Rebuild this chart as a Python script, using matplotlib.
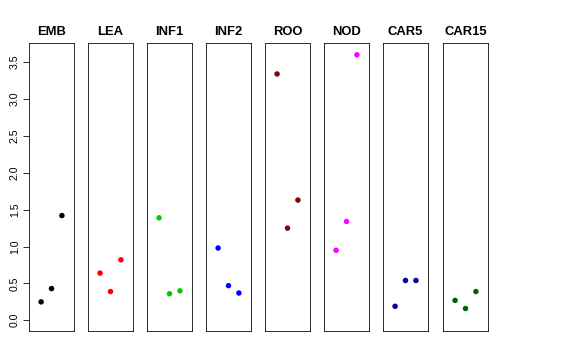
import numpy as np
from matplotlib import pyplot as plt

plt.rcParams['font.family'] = ['Liberation Sans', 'DejaVu Sans']

# groups and their three values (x = 1, 2, 3)
groups = ['EMB', 'LEA', 'INF1', 'INF2', 'ROO', 'NOD', 'CAR5', 'CAR15']
values = [
  [0.25, 0.43, 1.42],
  [0.64, 0.39, 0.82],
  [1.39, 0.36, 0.40],
  [0.98, 0.47, 0.37],
  [3.34, 1.25, 1.63],
  [0.95, 1.34, 3.60],
  [0.19, 0.54, 0.54],
  [0.27, 0.16, 0.39],
]
colors = ['black', 'red', '#00CD00', 'blue', '#8B0000', '#FF00FF', '#00008B', '#006400']
yticks = [0.0, 0.5, 1.0, 1.5, 2.0, 2.5, 3.0, 3.5]


def main():
  W, H = 576, 360
  fig = plt.figure(figsize=(W / 72, H / 72), dpi=72)

  lefts = [29, 88, 147, 206, 265, 324, 383, 443]
  pw = 45
  top, bot = 43, 331
  xs = np.array([1, 2, 3])

  for i, (name, vals, col) in enumerate(zip(groups, values, colors)):
    ax = fig.add_axes([lefts[i] / W, (H - bot) / H, pw / W, (bot - top) / H])
    ax.scatter(xs, vals, s=30, color=col, edgecolors='none', zorder=3)
    ax.set_xlim(-0.16, 4.16)
    ax.set_ylim(-0.145, 3.76)
    ax.set_xticks([])
    for sp in ax.spines.values():
      sp.set_linewidth(0.8)
      sp.set_color('black')
    ax.set_title(name, fontsize=13, fontweight='bold', pad=8)
    if i == 0:
      ax.set_yticks(yticks)
      ax.set_yticklabels(['%.1f' % v for v in yticks], rotation=90,
                         va='center', fontsize=10.5)
      ax.tick_params(axis='y', length=6, width=0.8, pad=3)
    else:
      ax.set_yticks([])

  fig.savefig('out.png', dpi=72)


if __name__ == "__main__":
  main()
